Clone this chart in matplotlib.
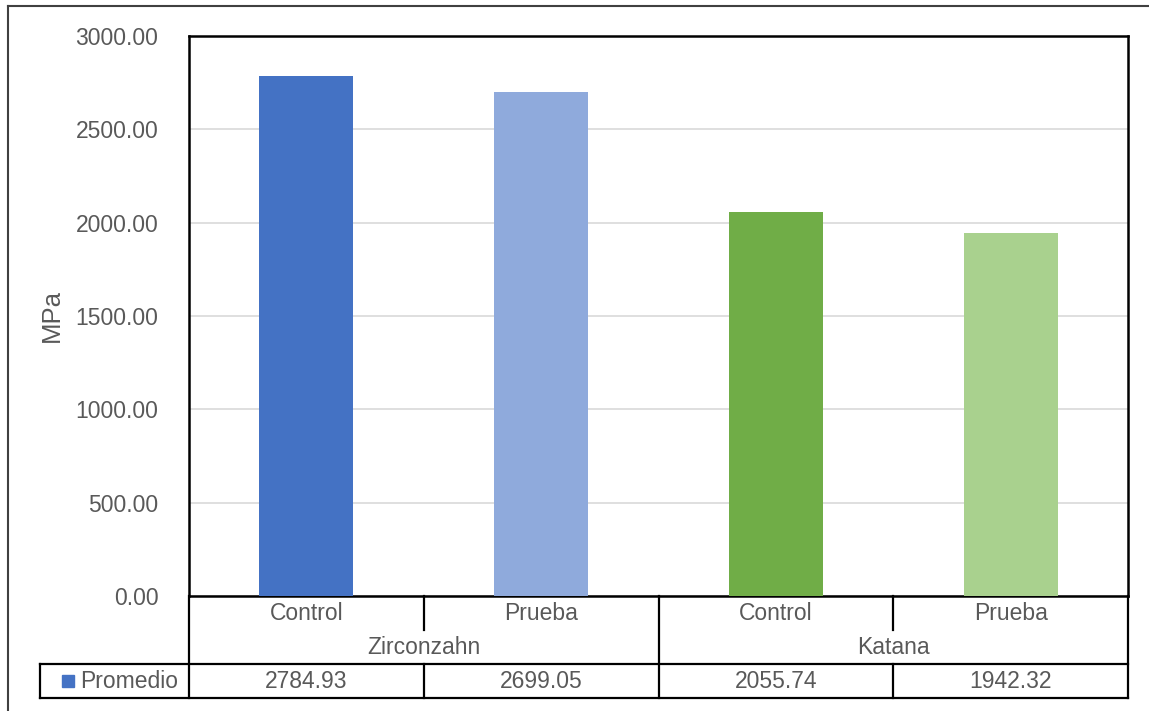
import matplotlib
matplotlib.use('Agg')
import matplotlib.pyplot as plt
import matplotlib.transforms as mtransforms
from matplotlib.lines import Line2D
import numpy as np

plt.rcParams['font.family'] = ['Liberation Sans', 'DejaVu Sans']

# data
groups = ["Zirconzahn", "Katana"]
subcats = ["Control", "Prueba", "Control", "Prueba"]
values = [2784.93, 2699.05, 2055.74, 1942.32]
bar_colors = ["#4472C4", "#8FAADC", "#70AD47", "#A9D18E"]
series_name = "Promedio"
yticks = [0, 500, 1000, 1500, 2000, 2500, 3000]

TEXT = "#595959"
FS = 16.5
W, H = 1149, 711

fig = plt.figure(figsize=(W / 100, H / 100), dpi=100)
ax = fig.add_axes([189 / W, (H - 596) / H, 939 / W, 560 / H])

x = np.arange(len(values))
ax.bar(x, values, width=0.4, color=bar_colors, zorder=3)

ax.set_xlim(-0.5, len(values) - 0.5)
ax.set_ylim(0, 3000)
ax.set_yticks(yticks)
ax.set_yticklabels([f"{v:.2f}" for v in yticks], fontsize=FS, color=TEXT)
ax.tick_params(axis='y', length=0, pad=22)
ax.set_xticks([])
ax.grid(axis='y', color="#D9D9D9", linewidth=1.2, zorder=0)
for s in ax.spines.values():
    s.set_color("black")
    s.set_linewidth(1.8)
ax.set_ylabel("MPa", fontsize=18.5, color=TEXT)
ax.yaxis.set_label_coords(-0.133, 0.5)

# data table below the plot
tr = mtransforms.blended_transform_factory(ax.transData, ax.transAxes)
r1, r2, r3 = -34 / 560, -68 / 560, -102 / 560
left = -0.5 - 149 / 234.75
n = len(values)
lw = 1.6


def hline(x0, x1, y):
    ax.add_line(Line2D([x0, x1], [y, y], transform=tr, color="black", lw=lw, clip_on=False))


def vline(xx, y0, y1):
    ax.add_line(Line2D([xx, xx], [y0, y1], transform=tr, color="black", lw=lw, clip_on=False))


hline(left, n - 0.5, r2)
hline(left, n - 0.5, r3)
vline(left, r2, r3)
for i in range(n + 1):
    xx = i - 0.5
    if i % 2 == 0:
        vline(xx, 0, r3)
    else:
        vline(xx, 0, r1)
        vline(xx, r2, r3)

for i, lab in enumerate(subcats):
    ax.text(i, (0 + r1) / 2, lab, transform=tr, ha='center', va='center', fontsize=FS, color=TEXT)
for g, name in enumerate(groups):
    ax.text(2 * g + 0.5, (r1 + r2) / 2, name, transform=tr, ha='center', va='center',
            fontsize=FS, color=TEXT)
for i, v in enumerate(values):
    ax.text(i, (r2 + r3) / 2, f"{v:.2f}", transform=tr, ha='center', va='center',
            fontsize=FS, color=TEXT)

ax.plot([-0.5 - 120.5 / 234.75], [(r2 + r3) / 2], transform=tr, marker='s', ms=9,
        color=bar_colors[0], clip_on=False, linestyle='none')
ax.text(-0.5 - 109 / 234.75, (r2 + r3) / 2, series_name, transform=tr, ha='left',
        va='center', fontsize=FS, color=TEXT)

# outer chart border (cropped at right/bottom)
fig.add_artist(Line2D([8 / W, 1], [1 - 6 / H, 1 - 6 / H], color="#404040", lw=1.5))
fig.add_artist(Line2D([8 / W, 8 / W], [0, 1 - 6 / H], color="#404040", lw=1.5))

fig.savefig("out.png", dpi=100)
